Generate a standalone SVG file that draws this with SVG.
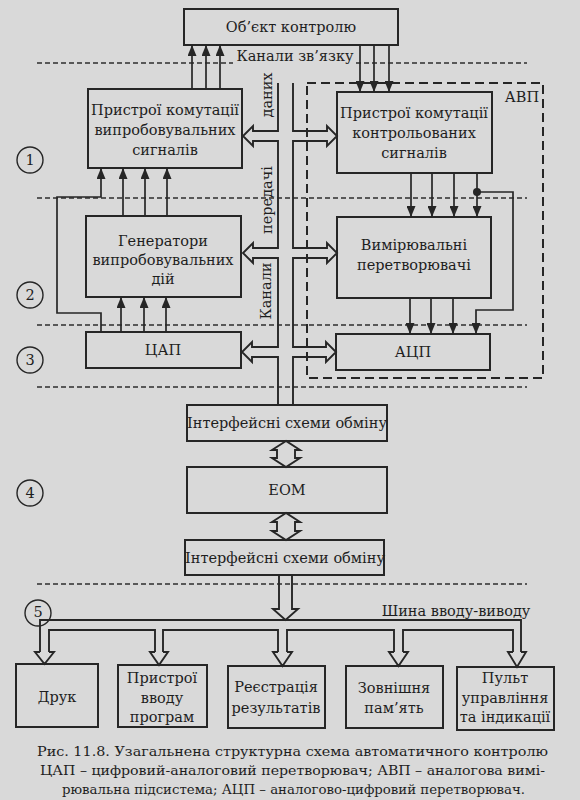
<svg xmlns="http://www.w3.org/2000/svg" width="580" height="800" viewBox="0 0 580 800">
<style>
.bg{fill:#d9d9d9}
.box{fill:none;stroke:#262626;stroke-width:2}
.ln{fill:none;stroke:#262626;stroke-width:1.7}
.bus{fill:none;stroke:#262626;stroke-width:1.9;stroke-linejoin:miter}
.sep{fill:none;stroke:#2e2e2e;stroke-width:1.4;stroke-dasharray:5 3}
.avp{fill:none;stroke:#262626;stroke-width:2;stroke-dasharray:9 5}
.t{font-family:"DejaVu Serif","Liberation Serif",serif;font-size:14.5px;fill:#1e1e1e;text-anchor:middle;dominant-baseline:central}
.cap{font-family:"DejaVu Serif","Liberation Serif",serif;font-size:13.5px;fill:#1e1e1e;dominant-baseline:central}
.num{fill:none;stroke:#262626;stroke-width:1.4}
</style>
<defs>
<marker id="ah" viewBox="0 0 11 9" refX="11" refY="4.5" markerWidth="11" markerHeight="9" markerUnits="userSpaceOnUse" orient="auto">
<path d="M0,0 L11,4.5 L0,9 Z" fill="#262626"/>
</marker>
</defs>
<rect class="bg" x="0" y="0" width="580" height="800"/>

<g id="separators">
<path class="sep" d="M37,63 H233 M356,63 H527"/>
<path class="sep" d="M37,198 H527"/>
<path class="sep" d="M37,325 H527"/>
<path class="sep" d="M37,387 H527"/>
<path class="sep" d="M37,584 H527"/>
</g>

<g id="avp">
<rect class="avp" x="307" y="83" width="236" height="295"/>
<text class="t" x="522" y="97">АВП</text>
</g>

<g id="levels">
<circle class="num" cx="30" cy="160" r="13"/><text class="t" x="30" y="160">1</text>
<circle class="num" cx="30" cy="295" r="13"/><text class="t" x="30" y="295">2</text>
<circle class="num" cx="30" cy="360" r="13"/><text class="t" x="30" y="360">3</text>
<circle class="num" cx="30" cy="493" r="13"/><text class="t" x="30" y="493">4</text>
<circle class="num" cx="38" cy="613" r="13"/><text class="t" x="38" y="612">5</text>
</g>

<g id="obj">
<rect class="box" x="184" y="9" width="214" height="36"/>
<text class="t" x="291" y="27">Об’єкт контролю</text>
</g>
<g id="p1">
<rect class="box" x="88" y="89" width="154" height="79"/>
<text class="t" x="165" y="110">Пристрої комутації</text>
<text class="t" x="165" y="130">випробовувальних</text>
<text class="t" x="165" y="150">сигналів</text>
</g>
<g id="p2">
<rect class="box" x="337" y="92" width="155" height="81"/>
<text class="t" x="414" y="113">Пристрої комутації</text>
<text class="t" x="414" y="133">контрольованих</text>
<text class="t" x="414" y="153">сигналів</text>
</g>
<g id="gen">
<rect class="box" x="86" y="216" width="155" height="81"/>
<text class="t" x="163" y="241">Генератори</text>
<text class="t" x="163" y="260">випробовувальних</text>
<text class="t" x="163" y="279">дій</text>
</g>
<g id="vym">
<rect class="box" x="337" y="217" width="154" height="81"/>
<text class="t" x="414" y="245">Вимірювальні</text>
<text class="t" x="414" y="265">перетворювачі</text>
</g>
<g id="dac">
<rect class="box" x="86" y="332" width="155" height="36"/>
<text class="t" x="163" y="350">ЦАП</text>
</g>
<g id="adc">
<rect class="box" x="336" y="334" width="154" height="36"/>
<text class="t" x="413" y="352">АЦП</text>
</g>
<g id="if1">
<rect class="box" x="187" y="405" width="200" height="36"/>
<text class="t" x="287" y="423">Інтерфейсні схеми обміну</text>
</g>
<g id="eom">
<rect class="box" x="187" y="467" width="200" height="46"/>
<text class="t" x="287" y="490">ЕОМ</text>
</g>
<g id="if2">
<rect class="box" x="185" y="540" width="199" height="35"/>
<text class="t" x="285" y="558">Інтерфейсні схеми обміну</text>
</g>
<g id="druk">
<rect class="box" x="16" y="664" width="82" height="63"/>
<text class="t" x="57" y="697">Друк</text>
</g>
<g id="prog">
<rect class="box" x="118" y="665" width="89" height="62"/>
<text class="t" x="162" y="678">Пристрої</text>
<text class="t" x="162" y="698">вводу</text>
<text class="t" x="162" y="717">програм</text>
</g>
<g id="reg">
<rect class="box" x="228" y="666" width="97" height="62"/>
<text class="t" x="276" y="687">Реєстрація</text>
<text class="t" x="276" y="708">результатів</text>
</g>
<g id="mem">
<rect class="box" x="346" y="666" width="97" height="62"/>
<text class="t" x="394" y="688">Зовнішня</text>
<text class="t" x="394" y="708">пам’ять</text>
</g>
<g id="pult">
<rect class="box" x="457" y="667" width="97" height="63"/>
<text class="t" x="505" y="678">Пульт</text>
<text class="t" x="505" y="698">управління</text>
<text class="t" x="505" y="717">та індикації</text>
</g>

<g id="connectors">
<path class="ln" marker-end="url(#ah)" d="M192,89 V45"/>
<path class="ln" marker-end="url(#ah)" d="M206,89 V45"/>
<path class="ln" marker-end="url(#ah)" d="M220,89 V45"/>
<path class="ln" marker-end="url(#ah)" d="M360,45 V92"/>
<path class="ln" marker-end="url(#ah)" d="M374,45 V92"/>
<path class="ln" marker-end="url(#ah)" d="M389,45 V92"/>
<path class="ln" marker-end="url(#ah)" d="M123,216 V168"/>
<path class="ln" marker-end="url(#ah)" d="M145,216 V168"/>
<path class="ln" marker-end="url(#ah)" d="M167,216 V168"/>
<path class="ln" marker-end="url(#ah)" d="M101,332 V313 H57 V197 H101 V168"/>
<path class="ln" marker-end="url(#ah)" d="M121,332 V297"/>
<path class="ln" marker-end="url(#ah)" d="M144,332 V297"/>
<path class="ln" marker-end="url(#ah)" d="M166,332 V297"/>
<path class="ln" marker-end="url(#ah)" d="M411,173 V217"/>
<path class="ln" marker-end="url(#ah)" d="M432,173 V217"/>
<path class="ln" marker-end="url(#ah)" d="M454,173 V217"/>
<path class="ln" marker-end="url(#ah)" d="M477,173 V217"/>
<path class="ln" marker-end="url(#ah)" d="M410,298 V334"/>
<path class="ln" marker-end="url(#ah)" d="M431,298 V334"/>
<path class="ln" marker-end="url(#ah)" d="M453,298 V334"/>
<path class="ln" marker-end="url(#ah)" d="M477,192 H513 V310 H476 V334"/>
<circle cx="477" cy="192" r="4" fill="#262626"/>

<path class="bus" d="M278,83 V131 H253 V126 L243,136 L253,146 V141 H278 V248 H253 V243 L243,253 L253,263 V258 H278 V347 H252 V342 L242,352 L252,362 V357 H278 V405"/>
<path class="bus" d="M293,83 V131 H327 V126 L337,136 L327,146 V141 H293 V248 H327 V243 L337,253 L327,263 V258 H293 V347 H326 V342 L336,352 L326,362 V357 H293 V405"/>
<text class="t" transform="rotate(-90 267 95)" x="267" y="95">даних</text>
<text class="t" transform="rotate(-90 267 200)" x="267" y="200">передачі</text>
<text class="t" transform="rotate(-90 266 291)" x="266" y="291">Канали</text>
<text class="t" x="295" y="56">Канали зв’язку</text>

<path class="bus" d="M286,441 L272,450 H277 V458 H272 L286,467 L300,458 H295 V450 H300 Z"/>
<path class="bus" d="M286,513 L272,522 H277 V531 H272 L286,540 L300,531 H295 V522 H300 Z"/>

<path class="bus" d="M279,575 V609 H273 L285.5,620 L298,609 H292 V575"/>
<path class="bus" d="M40,652 V620 H521 V652"/>
<path class="bus" d="M49,652 V630 H155 V652 M163,652 V630 H278 V652 M287,652 V630 H394 V652 M403,652 V630 H513 V652"/>
<path class="bus" d="M40,652 H35 L44.5,664 L54,652 H49 M155,652 H150 L159,665 L168,652 H163 M278,652 H273 L282.5,666 L292,652 H287 M394,652 H389 L398.5,666 L408,652 H403 M513,652 H508 L517,667 L526,652 H521"/>
<text class="t" x="456" y="611">Шина вводу-виводу</text>
</g>

<g id="caption">
<text class="cap" x="37" y="751" textLength="511" lengthAdjust="spacingAndGlyphs">Рис. 11.8. Узагальнена структурна схема автоматичного контролю</text>
<text class="cap" x="40" y="770" textLength="505" lengthAdjust="spacingAndGlyphs">ЦАП – цифровий-аналоговий перетворювач; АВП – аналогова вимі-</text>
<text class="cap" x="62" y="789" textLength="463" lengthAdjust="spacingAndGlyphs">рювальна підсистема; АЦП – аналогово-цифровий перетворювач.</text>
</g>
</svg>
